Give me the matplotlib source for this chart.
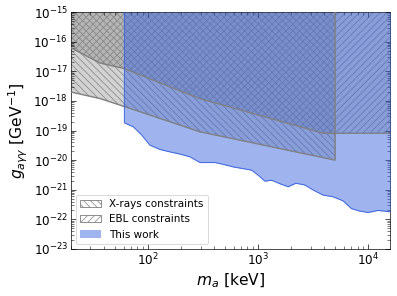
import matplotlib.pyplot as plt
from matplotlib.patches import Patch

plt.rcParams['hatch.color'] = 'gray'
plt.rcParams['hatch.linewidth'] = 0.8

# X-ray constraints (lower boundary), 20 keV - 5 MeV
xray_m = [20, 36.7, 60, 295, 5000]
xray_g = [2.0e-18, 1.2e-18, 6.6e-19, 9.1e-20, 1.0e-20]

# EBL constraints (lower boundary)
ebl_m = [20, 36.7, 60, 295, 3900, 16000]
ebl_g = [6.2e-17, 1.9e-17, 1.26e-17, 1.2e-18, 8.1e-20, 8.1e-20]

# this work (lower boundary)
work_m = [61, 73.6, 87.7, 104, 128, 158, 195, 240, 296, 405, 482, 593, 871, 1000,
          1150, 1322, 1573, 1872, 2198, 2650, 3154, 3882, 4785, 5900, 7030, 8360,
          9940, 12240, 16000]
work_g = [1.82e-19, 1.33e-19, 7.0e-20, 3.2e-20, 2.3e-20, 1.9e-20, 1.6e-20, 1.3e-20,
          8.3e-21, 8.3e-21, 7.2e-21, 5.9e-21, 4.6e-21, 3.1e-21, 1.95e-21, 2.1e-21,
          1.6e-21, 1.26e-21, 1.66e-21, 1.45e-21, 9.8e-22, 6.6e-22, 5.8e-22, 4.2e-22,
          2.3e-22, 1.9e-22, 1.7e-22, 2.0e-22, 1.8e-22]

gtop = 1e-15

fig = plt.figure(figsize=(397/62, 296/62), dpi=62)
ax = fig.add_axes([0.179, 0.159, 0.803, 0.8])

# grey fills
ax.fill_between(xray_m, xray_g, gtop, color='gray', alpha=0.35, lw=0)
ax.fill_between(ebl_m, ebl_g, gtop, color='gray', alpha=0.35, lw=0)
# hatches
ax.fill_between(xray_m, xray_g, gtop, facecolor='none', edgecolor='gray', hatch='\\\\\\', lw=0)
ax.fill_between(ebl_m, ebl_g, gtop, facecolor='none', edgecolor='gray', hatch='///', lw=0)
# edges
ax.plot(xray_m + [xray_m[-1]], xray_g + [gtop], color='gray', lw=1.6, zorder=4)
ax.plot(ebl_m, ebl_g, color='gray', lw=1.6, zorder=4)

# this work
ax.fill_between(work_m, work_g, gtop, color='royalblue', alpha=0.5, lw=0, zorder=3)
ax.plot([work_m[0]] + work_m, [gtop] + work_g, color='royalblue', lw=1.2, zorder=5)

ax.set_xscale('log')
ax.set_yscale('log')
ax.set_xlim(20, 1.57e4)
ax.set_ylim(1e-23, 1e-15)
ax.set_xlabel(r'$m_a$ [keV]', fontsize=18)
ax.set_ylabel(r'$g_{a\gamma\gamma}$ [GeV$^{-1}$]', fontsize=18)
ax.tick_params(which='both', direction='in', top=True, right=True, labelsize=14)
ax.tick_params(which='major', length=6)
ax.tick_params(which='minor', length=3)
ax.yaxis.set_major_locator(plt.LogLocator(base=10, numticks=20))
ax.yaxis.set_minor_locator(plt.LogLocator(base=10, subs=range(2, 10), numticks=20))

handles = [Patch(facecolor='white', edgecolor='gray', hatch='\\\\\\', label='X-rays constraints'),
           Patch(facecolor='white', edgecolor='gray', hatch='///', label='EBL constraints'),
           Patch(facecolor='royalblue', alpha=0.5, label='This work')]
ax.legend(handles=handles, loc='lower left', fontsize=12)

fig.savefig('out.png', dpi=62)
